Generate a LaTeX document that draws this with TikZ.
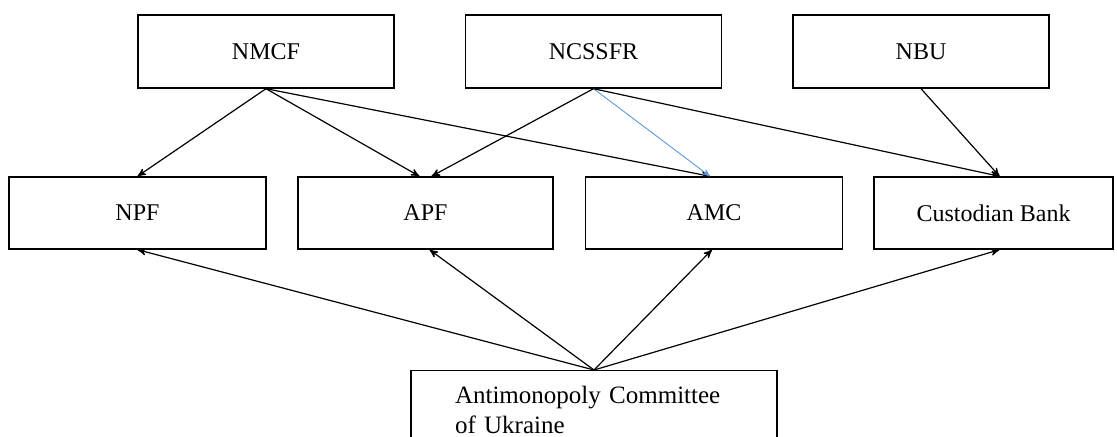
\documentclass[tikz,border=0pt]{standalone}
\usepackage{fontspec}
\setmainfont{Liberation Serif}
\usetikzlibrary{arrows}
\definecolor{linkblue}{RGB}{91,155,213}
\tikzset{
	orgbox/.style = {
		rectangle,
		draw=black,
		line width=0.7pt,
		align=center,
		inner sep=0pt,
		font=\fontsize{12}{14.4}\selectfont,
		minimum height=36.5pt
	},
	org_top/.style = {
		orgbox,
		minimum width=128pt
	},
	org_low/.style = {
		orgbox,
		minimum width=128.5pt,
		minimum height=36pt
	},
	org_base/.style = {
		orgbox,
		anchor=north,
		align=left,
		text width=139pt,
		inner xsep=22pt,
		inner ysep=7.5pt,
		font=\fontsize{12.5}{15}\selectfont
	},
	link/.style = {
		->,
		line width=0.6pt
	},
	link_blue/.style = {
		link,
		draw=linkblue,
		line width=0.45pt
	},
}

\begin{document}
\begin{tikzpicture}[x=0.5pt, y=-0.5pt, >=stealth']
\clip (0,0) rectangle (1117,437);
% regulators
\node [org_top] (nmcf) at (266,51.5) {NMCF};
\node [org_top] (ncssfr) at (593.5,51.5) {NCSSFR};
\node [org_top] (nbu) at (921,51.5) {NBU};
% pension market participants
\node [org_low] (npf) at (137.5,213) {NPF};
\node [org_low, minimum width=127.5pt] (apf) at (425.5,213) {APF};
\node [org_low] (amc) at (714,213) {AMC};
\node [org_low, minimum width=119.5pt] (cust) at (993.5,213) {Custodian Bank};
\node [org_base] (amcu) at (594,370) {Antimonopoly Committee\\of Ukraine};

\draw [link] (nmcf.south) -- (npf.north);
\draw [link] (nmcf.south) -- ([xshift=-3pt]apf.north);
\draw [link] (nmcf.south) -- ([xshift=-2pt]amc.north);
\draw [link] (ncssfr.south) -- ([xshift=3pt]apf.north);
\draw [link_blue] (ncssfr.south) -- ([xshift=-2pt]amc.north);
\draw [link] (ncssfr.south) -- ([xshift=3pt]cust.north);
\draw [link] (nbu.south) -- ([xshift=3pt]cust.north);

\draw [link] (amcu.north) -- (npf.south);
\draw [link] (amcu.north) -- ([xshift=2pt]apf.south);
\draw [link] (amcu.north) -- ([xshift=-1pt]amc.south);
\draw [link] (amcu.north) -- ([xshift=3pt]cust.south);
\end{tikzpicture}
\end{document}
